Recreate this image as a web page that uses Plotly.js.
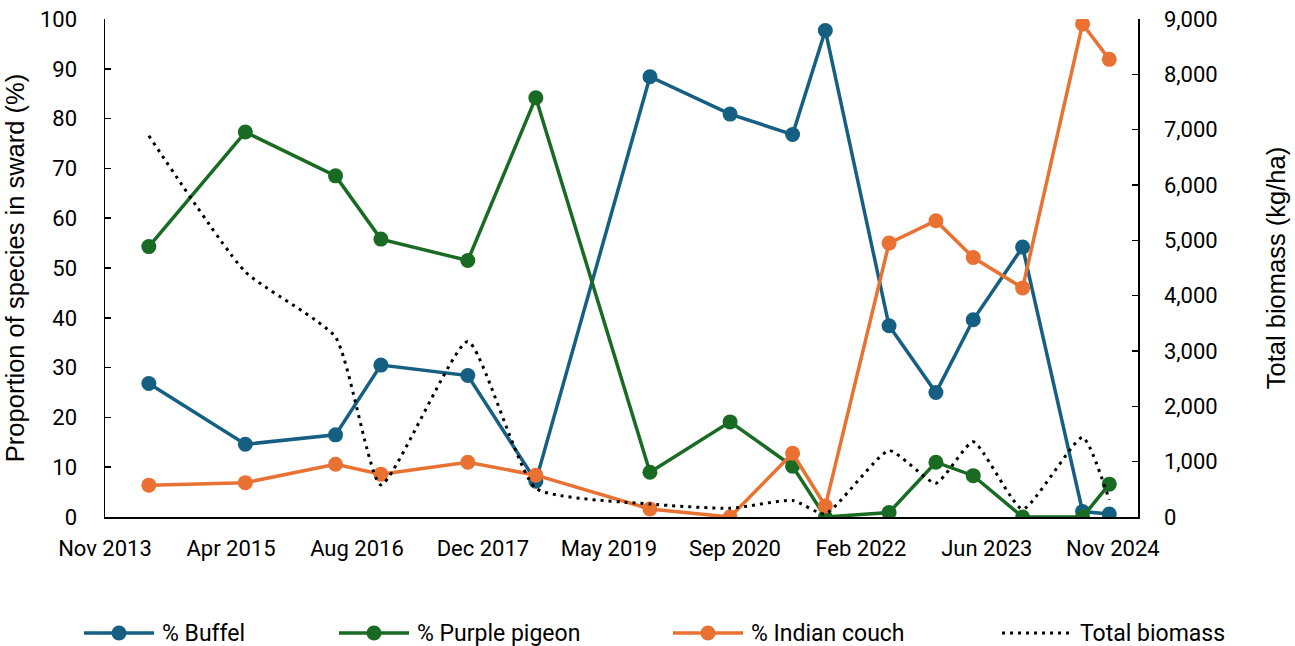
<!DOCTYPE html>
<html>
<head>
<meta charset="utf-8">
<script src="https://cdn.plot.ly/plotly-3.0.1.min.js"></script>
<style>
  html, body { margin: 0; padding: 0; background: #ffffff; }
  #chart { width: 1295px; height: 646px; }
</style>
</head>
<body>
<div id="chart"></div>
<script>
// ---- data ----
const sampleDates = ['2014-05-13','2015-05-31','2016-05-23','2016-11-19','2017-10-30','2018-07-27',
  '2019-10-23','2020-09-05','2021-05-11','2021-09-18','2022-05-29','2022-12-01',
  '2023-04-28','2023-11-10','2024-07-05','2024-10-19'];
const buffel   = [26.8, 14.6, 16.5, 30.5, 28.4, 7.2, 88.4, 80.9, 76.8, 97.7, 38.4, 25.0, 39.6, 54.2, 1.1, 0.6];
const pigeon   = [54.3, 77.3, 68.5, 55.8, 51.5, 84.2, 9.0, 19.1, 10.2, 0.0, 0.9, 11.0, 8.3, 0.0, 0.0, 6.6];
const couch    = [6.4, 6.9, 10.6, 8.6, 11.0, 8.4, 1.6, 0.0, 12.8, 2.2, 55.0, 59.5, 52.1, 46.0, 99.0, 91.9];
const biomass  = [6890, 4430, 3250, 580, 3170, 520, 235, 157, 300, 55, 1200, 610, 1360, 140, 1440, 310];
const seriesNames = ['% Buffel', '% Purple pigeon', '% Indian couch', 'Total biomass'];
const tickDates  = ['2013-11-20','2015-04-04','2016-08-16','2017-12-29','2019-05-13','2020-09-24','2022-02-06','2023-06-21','2024-11-02'];
const tickLabels = ['Nov 2013','Apr 2015','Aug 2016','Dec 2017','May 2019','Sep 2020','Feb 2022','Jun 2023','Nov 2024'];
const leftTicks  = [0,10,20,30,40,50,60,70,80,90,100];
const rightTicks = [0,1000,2000,3000,4000,5000,6000,7000,8000,9000];

// ---- styles ----
const colors = ['#156082', '#196B24', '#E97132', '#000000'];
const tickFont = {family: 'Roboto, "Liberation Sans", Arial, sans-serif', size: 22, color: '#000'};
const titleFont = {family: '"Liberation Sans", Arial, sans-serif', size: 25.5, color: '#000'};
const legFont = {family: 'Roboto, "Liberation Sans", Arial, sans-serif', size: 23, color: '#000'};

function pctTrace(vals, i) {
  return {
    type: 'scatter', mode: 'lines+markers', x: sampleDates, y: vals, name: seriesNames[i],
    line: {color: colors[i], width: 3.5},
    marker: {color: colors[i], size: 15, line: {width: 0}},
    hoverinfo: 'x+y', showlegend: false
  };
}
const traces = [
  pctTrace(buffel, 0),
  pctTrace(pigeon, 1),
  pctTrace(couch, 2),
  {
    type: 'scatter', mode: 'lines', x: sampleDates, y: biomass, name: seriesNames[3], yaxis: 'y2',
    line: {color: '#000', width: 3, dash: '3px,5px', shape: 'spline', smoothing: 0.5},
    showlegend: false
  }
];

// ---- custom legend (positions in pixels of the 1295x646 canvas) ----
const plotL = 105, plotR = 1138, plotT = 19, plotB = 517;
const px2x = p => (p - plotL) / (plotR - plotL);
const py2y = p => (plotB - p) / (plotB - plotT);
const legStarts = [84, 339, 673, 1002];
const legY = 633, legLen = 70;
const shapes = [], annotations = [];
legStarts.forEach((s, i) => {
  const isDot = i === 3;
  shapes.push({
    type: 'line', xref: 'paper', yref: 'paper',
    x0: px2x(s), x1: px2x(s + legLen), y0: py2y(legY), y1: py2y(legY),
    line: {color: colors[i], width: isDot ? 3 : 3.5, dash: isDot ? '3px,5px' : 'solid'}
  });
  if (!isDot) {
    shapes.push({
      type: 'circle', xref: 'paper', yref: 'paper', xsizemode: 'pixel', ysizemode: 'pixel',
      xanchor: px2x(s + legLen / 2), yanchor: py2y(legY),
      x0: -7.5, x1: 7.5, y0: -7.5, y1: 7.5,
      fillcolor: colors[i], line: {width: 0}
    });
  }
  annotations.push({
    xref: 'paper', yref: 'paper', x: px2x(s + legLen + 6), y: py2y(legY),
    xanchor: 'left', yanchor: 'middle', showarrow: false,
    text: seriesNames[i], font: legFont
  });
});

const layout = {
  width: 1295, height: 646,
  margin: {l: plotL, r: 1295 - plotR, t: plotT, b: 646 - plotB, pad: 0},
  paper_bgcolor: '#fff', plot_bgcolor: '#fff',
  showlegend: false,
  xaxis: {
    type: 'date', range: ['2013-11-20', '2025-02-10'],
    tickmode: 'array', tickvals: tickDates, ticktext: tickLabels,
    showline: true, linecolor: '#000', linewidth: 1.5, ticks: '',
    showgrid: false, zeroline: false, tickfont: tickFont, ticklabelstandoff: 11
  },
  yaxis: {
    range: [0, 100], tickmode: 'array', tickvals: leftTicks,
    showline: true, linecolor: '#000', linewidth: 1.5,
    ticks: 'inside', ticklen: 6, tickwidth: 1.5, tickcolor: '#000',
    showgrid: false, zeroline: false, tickfont: tickFont, ticklabelstandoff: 22,
    title: {text: 'Proportion of species in sward (%)', font: titleFont, standoff: 8}
  },
  yaxis2: {
    range: [0, 9000], overlaying: 'y', side: 'right', tickmode: 'array', tickvals: rightTicks,
    tickformat: ',d',
    showline: true, linecolor: '#000', linewidth: 1.5,
    ticks: 'inside', ticklen: 6, tickwidth: 1.5, tickcolor: '#000',
    showgrid: false, zeroline: false, tickfont: tickFont, ticklabelstandoff: 20,
    title: {text: 'Total biomass (kg/ha)', font: titleFont, standoff: 50}
  },
  shapes: shapes,
  annotations: annotations
};

Plotly.newPlot('chart', traces, layout, {staticPlot: true, displayModeBar: false});
</script>
</body>
</html>
